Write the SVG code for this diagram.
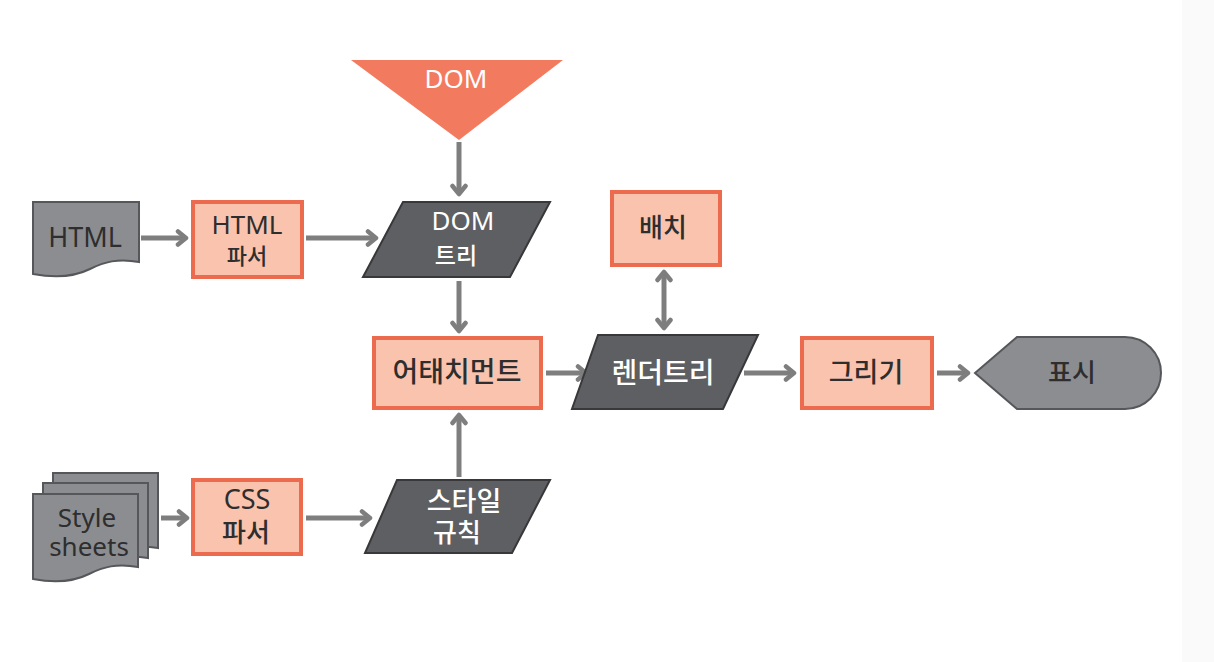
<svg xmlns="http://www.w3.org/2000/svg" width="1214" height="662" viewBox="0 0 1214 662">
<style>
.box{fill:#f9c3ae;stroke:#ec6a4e;stroke-width:4}
.para{fill:#5e5f63;stroke:#38383a;stroke-width:2}
.doc{fill:#8b8d91;stroke:#56575a;stroke-width:2}
.t{font-family:"Noto Sans","Noto Sans CJK KR",sans-serif;text-anchor:middle;fill:#2e2e2e}
.k{font-family:"Noto Sans CJK KR",sans-serif;font-weight:500}
.w{fill:#ffffff}
.con{stroke:#7e7e7e;stroke-width:5;fill:none}
</style>
<defs>
<marker id="ah" viewBox="0 0 14 18" refX="11" refY="9" markerWidth="14" markerHeight="18" markerUnits="userSpaceOnUse" orient="auto-start-reverse">
<path d="M3,2.5 L11,9 L3,15.5" fill="none" stroke="#7e7e7e" stroke-width="4.5" stroke-linecap="round" stroke-linejoin="round"/>
</marker>
</defs>
<rect x="0" y="0" width="1214" height="662" fill="#ffffff"/>
<rect x="1182" y="0" width="32" height="662" fill="#fafafa"/>

<g id="connectors">
<line class="con" x1="141" y1="238" x2="186" y2="238" marker-end="url(#ah)"/>
<line class="con" x1="306" y1="238" x2="376" y2="238" marker-end="url(#ah)"/>
<line class="con" x1="459" y1="142" x2="459" y2="194" marker-end="url(#ah)"/>
<line class="con" x1="459" y1="281" x2="459" y2="331" marker-end="url(#ah)"/>
<line class="con" x1="459" y1="477" x2="459" y2="415" marker-end="url(#ah)"/>
<line class="con" x1="546" y1="373" x2="586" y2="373" marker-end="url(#ah)"/>
<line class="con" x1="664" y1="272" x2="664" y2="328" marker-start="url(#ah)" marker-end="url(#ah)"/>
<line class="con" x1="744" y1="373" x2="794" y2="373" marker-end="url(#ah)"/>
<line class="con" x1="937" y1="373" x2="968" y2="373" marker-end="url(#ah)"/>
<line class="con" x1="161" y1="518" x2="187" y2="518" marker-end="url(#ah)"/>
<line class="con" x1="306" y1="518" x2="370" y2="518" marker-end="url(#ah)"/>
</g>

<g id="html-doc">
<path class="doc" d="M33,202 H139 V262 C118,258 104,262 90,269 C74,277 55,278 33,274 Z"/>
<text class="t" x="85" y="247" font-size="27">HTML</text>
</g>

<g id="html-parser">
<rect class="box" x="193" y="202" width="109" height="75"/>
<text class="t" x="247" y="234" font-size="26">HTML</text>
<text class="t k" x="247" y="264" font-size="22">파서</text>
</g>

<g id="dom-source">
<polygon points="351,60 563,60 459,140" fill="#f27b5f"/>
<text class="t w" x="456" y="88" font-size="26">DOM</text>
</g>

<g id="dom-tree">
<polygon class="para" points="403,202 550,202 510,277 363,277"/>
<text class="t w" x="463" y="230" font-size="26">DOM</text>
<text class="t k w" x="456" y="264" font-size="23">트리</text>
</g>

<g id="attachment">
<rect class="box" x="374" y="338" width="167" height="70"/>
<text class="t k" x="457" y="382" font-size="28">어태치먼트</text>
</g>

<g id="layout">
<rect class="box" x="612" y="192" width="108" height="73"/>
<text class="t k" x="663" y="237" font-size="26">배치</text>
</g>

<g id="render-tree">
<polygon class="para" points="598,335 758,335 723,409 572,409"/>
<text class="t k w" x="663" y="383" font-size="28">렌더트리</text>
</g>

<g id="paint">
<rect class="box" x="802" y="338" width="130" height="70"/>
<text class="t k" x="866" y="382" font-size="27">그리기</text>
</g>

<g id="display">
<path class="doc" d="M975,373 L1017,337 H1125 A36,36 0 0 1 1125,409 H1017 Z"/>
<text class="t k" x="1072" y="382" font-size="26">표시</text>
</g>

<g id="stylesheets">
<path class="doc" d="M53,473 H158 V548 C137,544 123,548 109,555 C93,563 74,564 53,560 Z"/>
<path class="doc" d="M43,483 H148 V558 C127,554 113,558 99,565 C83,573 64,574 43,570 Z"/>
<path class="doc" d="M33,494 H138 V567 C117,563 103,567 89,574 C73,582 54,583 33,579 Z"/>
<text class="t" x="87" y="527" font-size="26">Style</text>
<text class="t" x="89" y="556" font-size="26">sheets</text>
</g>

<g id="css-parser">
<rect class="box" x="193" y="480" width="108" height="74"/>
<text class="t" x="247" y="509" font-size="27">CSS</text>
<text class="t k" x="246" y="542" font-size="26">파서</text>
</g>

<g id="style-rules">
<polygon class="para" points="397,480 550,480 512,553 365,553"/>
<text class="t k w" x="464" y="511" font-size="27">스타일</text>
<text class="t k w" x="457" y="542" font-size="26">규칙</text>
</g>
</svg>
